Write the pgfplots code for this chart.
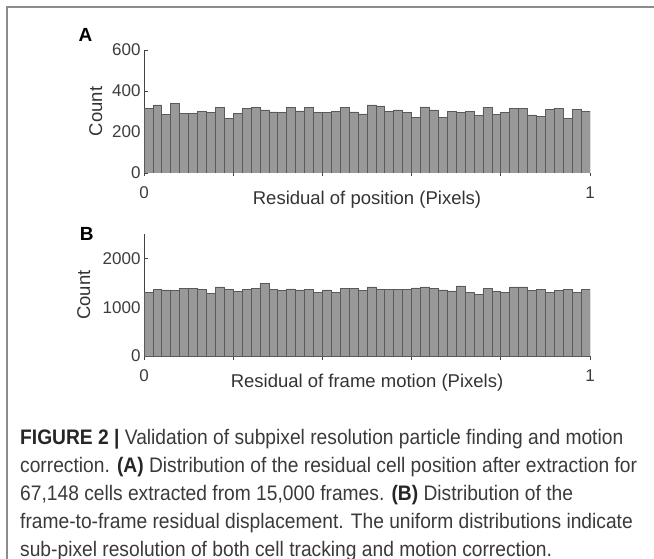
\documentclass[border=0pt]{standalone}
\usepackage{fontspec}
\setmainfont{Liberation Sans}
\newfontfamily\capfont[FakeStretch=0.915]{Liberation Sans}
\usepackage{pgfplots}
\usepackage{pgfplotstable}
\pgfplotsset{compat=1.18}
\definecolor{barfill}{HTML}{999999}
\definecolor{baredge}{HTML}{5A5A5A}
\definecolor{axcol}{HTML}{444444}
\definecolor{txt}{HTML}{333333}
\definecolor{ticktxt}{HTML}{3C3C3C}
\definecolor{framecol}{HTML}{8C8C8C}
\definecolor{captxt}{HTML}{3A3A3A}

\pgfplotstableread{
x y
0.01 313
0.03 332
0.05 287
0.07 340
0.09 290
0.11 292
0.13 300
0.15 297
0.17 318
0.19 268
0.21 292
0.23 315
0.25 318
0.27 308
0.29 298
0.31 295
0.33 318
0.35 303
0.37 320
0.39 295
0.41 297
0.43 302
0.45 320
0.47 298
0.49 288
0.51 332
0.53 327
0.55 302
0.57 308
0.59 297
0.61 272
0.63 322
0.65 308
0.67 272
0.69 302
0.71 295
0.73 302
0.75 282
0.77 320
0.79 285
0.81 295
0.83 315
0.85 313
0.87 283
0.89 275
0.91 310
0.93 315
0.95 265
0.97 312
0.99 302
}\dataA

\pgfplotstableread{
x y
0.01 1311
0.03 1360
0.05 1353
0.07 1346
0.09 1387
0.11 1387
0.13 1367
0.15 1290
0.17 1415
0.19 1367
0.21 1325
0.23 1360
0.25 1387
0.27 1484
0.29 1367
0.31 1346
0.33 1374
0.35 1353
0.37 1367
0.39 1311
0.41 1353
0.43 1311
0.45 1387
0.47 1380
0.49 1346
0.51 1415
0.53 1367
0.55 1367
0.57 1367
0.59 1367
0.61 1394
0.63 1415
0.65 1387
0.67 1353
0.69 1335
0.71 1436
0.73 1311
0.75 1263
0.77 1387
0.79 1332
0.81 1311
0.83 1415
0.85 1415
0.87 1339
0.89 1360
0.91 1311
0.93 1339
0.95 1367
0.97 1311
0.99 1360
}\dataB

\pgfplotsset{
  histo/.style={
    scale only axis, width=446pt,
    xmin=0, xmax=1, ymin=0,
    axis lines*=left,
    axis line style={axcol, line width=1pt},
    tick align=inside,
    tick style={axcol, line width=0.8pt},
    major tick length=3.5pt,
    xtick={0,0.2,0.4,0.6,0.8,1},
    xticklabels={0,,,,,1},
    ticklabel style={font=\fontsize{17}{18}\selectfont, text=ticktxt},
    xticklabel style={yshift=-7pt},
    /pgf/number format/assume math mode=true,
    /pgf/number format/1000 sep={},
    label style={font=\fontsize{18.5}{20}\selectfont, text=txt},
    ylabel={Count},
    ybar, bar width=0.02, bar shift=0pt,
    scaled y ticks=false,
  },
  histbar/.style={fill=barfill, draw=baredge, line width=0.7pt},
}

\begin{document}
\begin{tikzpicture}
\path[use as bounding box] (0,0) rectangle (654pt,-559pt);
\draw[framecol, line width=1.2pt] (7pt,-559pt) -- (7pt,-7pt) -- (654pt,-7pt);

\node[font=\fontsize{19}{20}\selectfont\bfseries, text=black] at (85.5pt,-35pt) {A};
\node[font=\fontsize{19}{20}\selectfont\bfseries, text=black] at (86.7pt,-234pt) {B};

\begin{axis}[histo, height=123pt, ymax=600,
  at={(144pt,-173pt)}, anchor=south west,
  ytick={0,200,400,600},
  xlabel={Residual of position (Pixels)},
  xlabel style={at={(axis description cs:0.5,-0.22)}, anchor=center},
  ylabel style={at={(axis description cs:-0.108,0.5)}, anchor=center, rotate=0},
]
\addplot[histbar] table[x=x,y=y] {\dataA};
\end{axis}

\begin{axis}[histo, height=122pt, ymax=2500,
  at={(144pt,-356pt)}, anchor=south west,
  ytick={0,1000,2000},
  xlabel={Residual of frame motion (Pixels)},
  xlabel style={at={(axis description cs:0.5,-0.215)}, anchor=center},
  ylabel style={at={(axis description cs:-0.135,0.5)}, anchor=center, rotate=0},
]
\addplot[histbar] table[x=x,y=y] {\dataB};
\end{axis}

\begin{scope}[every node/.style={anchor=base west, inner sep=0pt, text=captxt, font=\capfont\fontsize{21}{24}\selectfont}]
\node at (20pt,-444pt) {{\color{black!85}\bfseries FIGURE 2 |} Validation of subpixel resolution particle finding and motion};
\node at (20pt,-472pt) {correction. {\color{black!85}\bfseries (A)} Distribution of the residual cell position after extraction for};
\node at (20pt,-500pt) {67,148 cells extracted from 15,000 frames. {\color{black!85}\bfseries (B)} Distribution of the};
\node at (20pt,-528pt) {frame-to-frame residual displacement. The uniform distributions indicate};
\node at (20pt,-556pt) {sub-pixel resolution of both cell tracking and motion correction.};
\end{scope}
\end{tikzpicture}
\end{document}
